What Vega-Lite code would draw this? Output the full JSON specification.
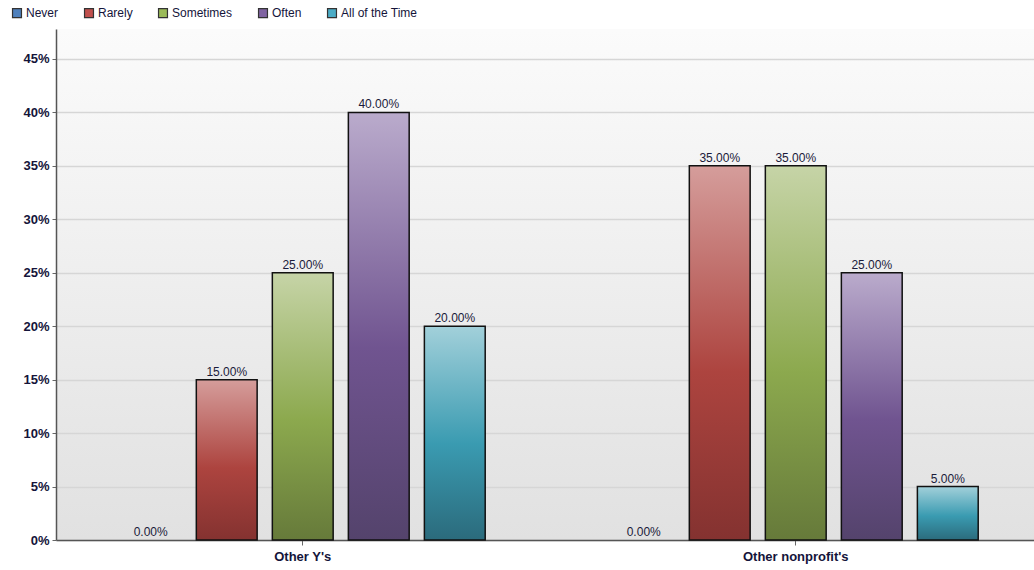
{
  "$schema": "https://vega.github.io/schema/vega-lite/v6.json",
  "autosize": "none",
  "width": 978,
  "height": 511,
  "padding": {"left": 56, "top": 29, "right": 0, "bottom": 30},
  "background": "white",
  "config": {
    "font": "Liberation Sans, Arial, sans-serif",
    "view": {
      "stroke": null,
      "fill": {
        "gradient": "linear",
        "x1": 0, "y1": 0, "x2": 0, "y2": 1,
        "stops": [
          {"offset": 0, "color": "#fbfbfb"},
          {"offset": 1, "color": "#e1e1e1"}
        ]
      }
    }
  },
  "data": {
    "values": [
      {"group": "Other Y's", "answer": "Never", "share": 0.0},
      {"group": "Other Y's", "answer": "Rarely", "share": 0.15},
      {"group": "Other Y's", "answer": "Sometimes", "share": 0.25},
      {"group": "Other Y's", "answer": "Often", "share": 0.40},
      {"group": "Other Y's", "answer": "All of the Time", "share": 0.20},
      {"group": "Other nonprofit's", "answer": "Never", "share": 0.0},
      {"group": "Other nonprofit's", "answer": "Rarely", "share": 0.35},
      {"group": "Other nonprofit's", "answer": "Sometimes", "share": 0.35},
      {"group": "Other nonprofit's", "answer": "Often", "share": 0.25},
      {"group": "Other nonprofit's", "answer": "All of the Time", "share": 0.05}
    ]
  },
  "encoding": {
    "x": {
      "field": "group",
      "type": "nominal",
      "sort": ["Other Y's", "Other nonprofit's"],
      "scale": {"paddingInner": 0.229, "paddingOuter": 0.115, "range": [0, 986.5]},
      "axis": {
        "title": null,
        "labelAngle": 0,
        "labelFontWeight": "bold",
        "labelFontSize": 13,
        "labelColor": "#14143a",
        "labelPadding": 5,
        "tickSize": 5,
        "tickColor": "#666666",
        "domainColor": "#555555",
        "domainWidth": 1.5
      }
    },
    "xOffset": {
      "field": "answer",
      "type": "nominal",
      "sort": ["Never", "Rarely", "Sometimes", "Often", "All of the Time"],
      "scale": {"paddingInner": 0.2, "paddingOuter": 0.1}
    },
    "y": {
      "field": "share",
      "type": "quantitative",
      "scale": {"domain": [0, 0.478], "nice": false},
      "axis": {
        "title": null,
        "values": [0, 0.05, 0.1, 0.15, 0.2, 0.25, 0.3, 0.35, 0.4, 0.45],
        "format": ".0%",
        "labelFontWeight": "bold",
        "labelFontSize": 13,
        "labelColor": "#14143a",
        "labelPadding": 3,
        "tickSize": 4,
        "tickColor": "#666666",
        "domainColor": "#555555",
        "domainWidth": 1.5,
        "gridColor": "#d6d6d6",
        "gridWidth": 1.5
      }
    }
  },
  "layer": [
    {
      "transform": [{"filter": "datum.share > 0"}],
      "mark": {"type": "bar", "opacity": 1},
      "encoding": {
        "color": {
          "field": "answer",
          "type": "nominal",
          "sort": ["Never", "Rarely", "Sometimes", "Often", "All of the Time"],
          "scale": {
            "domain": ["Never", "Rarely", "Sometimes", "Often", "All of the Time"],
            "range": ["#4f81bd", "#c0504d", "#9bbb59", "#8064a2", "#4bacc6"]
          },
          "legend": {
            "title": null,
            "orient": "none",
            "direction": "horizontal",
            "legendX": -45,
            "legendY": -22,
            "symbolType": "square",
            "symbolSize": 80,
            "symbolStrokeColor": "#333333",
            "symbolStrokeWidth": 1.2,
            "symbolOpacity": 1,
            "labelFontSize": 12,
            "labelColor": "#14143a",
            "labelOffset": 3,
            "columnPadding": 23
          }
        }
      }
    },
    {
      "transform": [{"filter": "datum.share > 0"}],
      "mark": {"type": "bar", "stroke": "#111111", "strokeWidth": 1.5},
      "encoding": {
        "fill": {
          "condition": [
            {
              "test": "datum.answer === 'Rarely'",
              "value": {
                "gradient": "linear", "x1": 0, "y1": 0, "x2": 0, "y2": 1,
                "stops": [
                  {"offset": 0, "color": "#d59d9b"},
                  {"offset": 0.55, "color": "#ad443f"},
                  {"offset": 1, "color": "#843230"}
                ]
              }
            },
            {
              "test": "datum.answer === 'Sometimes'",
              "value": {
                "gradient": "linear", "x1": 0, "y1": 0, "x2": 0, "y2": 1,
                "stops": [
                  {"offset": 0, "color": "#c6d4a7"},
                  {"offset": 0.55, "color": "#8ca94e"},
                  {"offset": 1, "color": "#667a3a"}
                ]
              }
            },
            {
              "test": "datum.answer === 'Often'",
              "value": {
                "gradient": "linear", "x1": 0, "y1": 0, "x2": 0, "y2": 1,
                "stops": [
                  {"offset": 0, "color": "#baabcc"},
                  {"offset": 0.55, "color": "#705490"},
                  {"offset": 1, "color": "#54436c"}
                ]
              }
            },
            {
              "test": "datum.answer === 'All of the Time'",
              "value": {
                "gradient": "linear", "x1": 0, "y1": 0, "x2": 0, "y2": 1,
                "stops": [
                  {"offset": 0, "color": "#a2d0da"},
                  {"offset": 0.55, "color": "#3a9bb1"},
                  {"offset": 1, "color": "#2b6b7c"}
                ]
              }
            }
          ],
          "value": {
            "gradient": "linear", "x1": 0, "y1": 0, "x2": 0, "y2": 1,
            "stops": [
              {"offset": 0, "color": "#9fb9da"},
              {"offset": 0.55, "color": "#4a7ab3"},
              {"offset": 1, "color": "#365b87"}
            ]
          }
        }
      }
    },
    {
      "mark": {
        "type": "text",
        "baseline": "bottom",
        "dy": -1,
        "fontSize": 12,
        "color": "#1a1a3a"
      },
      "encoding": {
        "text": {"field": "share", "type": "quantitative", "format": ".2%"}
      }
    }
  ]
}
